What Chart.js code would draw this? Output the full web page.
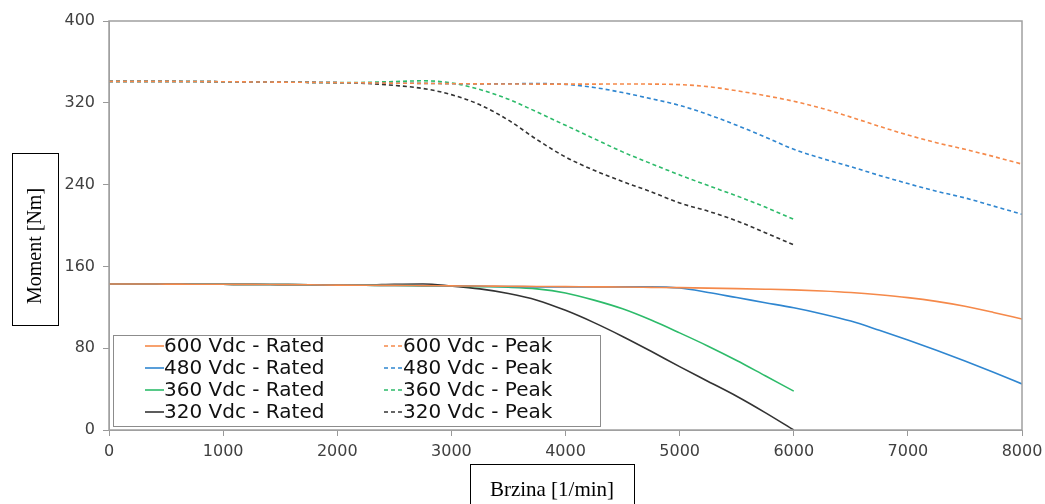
<!DOCTYPE html>
<html>
<head>
<meta charset="utf-8">
<script src="https://cdn.jsdelivr.net/npm/chart.js@4"></script>
<style>
  body { margin: 0; background: #fff; }
  #wrap { width: 1045px; height: 504px; position: relative; }
</style>
</head>
<body>
<div id="wrap"><canvas id="chart"></canvas></div>
<script>
// speed [1/min]
const speed = [0, 250, 500, 750, 1000, 1250, 1500, 1750, 2000, 2250, 2500, 2750, 3000, 3250, 3500, 3750,
  4000, 4250, 4500, 4750, 5000, 5250, 5500, 5750, 6000, 6250, 6500, 6750, 7000, 7250, 7500, 7750, 8000];

// torque [Nm], rated
const rated600 = [142.8, 142.8, 142.7, 142.6, 142.5, 142.4, 142.2, 142.0, 141.7, 141.5, 141.4, 141.2, 141.0, 140.8, 140.6, 140.4,
  140.2, 140.0, 139.8, 139.5, 139.2, 138.8, 138.3, 137.7, 137.0, 136.0, 134.5, 132.3, 129.5, 125.8, 121.0, 115.0, 108.5];
const rated480 = [142.8, 142.8, 142.7, 142.6, 142.5, 142.4, 142.2, 142.0, 141.7, 141.5, 141.4, 141.2, 141.0, 140.6, 140.3, 140.0,
  139.8, 139.8, 140.0, 140.0, 138.8, 134.5, 129.5, 124.5, 119.5, 113.5, 106.5, 97.5, 88.0, 78.0, 67.5, 56.5, 45.0];
const rated360 = [142.8, 142.8, 142.7, 142.6, 142.5, 142.4, 142.2, 142.0, 141.7, 141.5, 141.3, 141.0, 140.8, 140.2, 139.6, 138.0,
  134.0, 127.0, 118.5, 107.5, 95.0, 82.0, 68.0, 53.0, 38.0];
const rated320 = [142.8, 142.8, 142.7, 142.6, 142.5, 142.4, 142.2, 142.0, 141.7, 141.8, 142.5, 142.8, 140.8, 138.0, 133.5, 127.0,
  117.0, 105.0, 91.5, 77.0, 62.0, 47.5, 33.0, 17.0, 0];

// torque [Nm], peak
const peak600 = [341.0, 341.0, 341.0, 340.8, 340.6, 340.4, 340.2, 340.0, 339.7, 339.5, 339.2, 339.0, 338.7, 338.5, 338.4, 338.3,
  338.3, 338.3, 338.4, 338.3, 337.8, 335.8, 331.8, 327.0, 321.5, 314.5, 306.0, 297.0, 288.5, 281.0, 274.5, 267.5, 260.0];
const peak480 = [341.0, 341.0, 341.0, 340.8, 340.6, 340.4, 340.2, 340.0, 339.7, 339.5, 339.2, 339.0, 338.7, 338.5, 338.6, 338.8,
  338.0, 335.0, 330.0, 324.0, 317.5, 308.5, 298.0, 286.5, 274.5, 265.5, 257.5, 249.0, 241.0, 233.5, 227.0, 219.0, 211.0];
const peak360 = [341.0, 341.0, 341.0, 340.8, 340.6, 340.4, 340.2, 340.0, 339.7, 340.0, 340.8, 341.5, 339.5, 333.0, 323.5, 311.0,
  298.0, 285.0, 272.0, 260.5, 249.5, 239.0, 229.0, 218.0, 206.0];
const peak320 = [341.0, 341.0, 341.0, 340.8, 340.6, 340.4, 340.2, 340.0, 339.7, 339.0, 337.0, 334.0, 328.0, 318.0, 303.0, 284.0,
  267.0, 254.0, 243.0, 233.0, 222.0, 214.0, 204.5, 193.0, 181.0];

const xTicks = [0, 1000, 2000, 3000, 4000, 5000, 6000, 7000, 8000];
const yTicks = [0, 80, 160, 240, 320, 400];

const colors = { 600: '#f5894a', 480: '#2f86d0', 360: '#2dbb6a', 320: '#333333' };

const pts = arr => arr.map((v, i) => ({ x: speed[i], y: v }));

function series(label, values, color, dashed) {
  return {
    label: label,
    data: pts(values),
    borderColor: color,
    backgroundColor: color,
    borderWidth: 1.6,
    borderDash: dashed ? [4, 3] : [],
    pointRadius: 0,
    cubicInterpolationMode: 'monotone',
    fill: false
  };
}

const datasets = [
  series('600 Vdc - Rated', rated600, colors[600], false),
  series('480 Vdc - Rated', rated480, colors[480], false),
  series('360 Vdc - Rated', rated360, colors[360], false),
  series('320 Vdc - Rated', rated320, colors[320], false),
  series('600 Vdc - Peak', peak600, colors[600], true),
  series('480 Vdc - Peak', peak480, colors[480], true),
  series('360 Vdc - Peak', peak360, colors[360], true),
  series('320 Vdc - Peak', peak320, colors[320], true)
];

// frame, boxed axis titles and the inset legend
const decor = {
  id: 'decor',
  afterDraw(chart) {
    const ctx = chart.ctx;
    const a = chart.chartArea;
    ctx.save();

    ctx.strokeStyle = '#a0a0a0';
    ctx.lineWidth = 1.5;
    ctx.strokeRect(a.left, a.top, a.right - a.left, a.bottom - a.top);

    // legend box
    const lx = a.left + 4, ly = a.bottom - 95, lw = 487, lh = 91;
    ctx.fillStyle = '#fff';
    ctx.fillRect(lx, ly, lw, lh);
    ctx.strokeStyle = '#8c8c8c';
    ctx.lineWidth = 1;
    ctx.strokeRect(lx + 0.5, ly + 0.5, lw, lh);

    ctx.font = '20px "DejaVu Sans"';
    ctx.textBaseline = 'middle';
    ctx.textAlign = 'left';
    chart.data.datasets.forEach((ds, i) => {
      const col = i < 4 ? 0 : 1;
      const row = i % 4;
      const sx = col === 0 ? lx + 32 : lx + 271;
      const y = ly + 11 + row * 22;
      ctx.strokeStyle = ds.borderColor;
      ctx.lineWidth = 1.6;
      ctx.setLineDash(ds.borderDash);
      ctx.beginPath();
      ctx.moveTo(sx, y);
      ctx.lineTo(sx + 19, y);
      ctx.stroke();
      ctx.setLineDash([]);
      ctx.fillStyle = '#111';
      ctx.fillText(ds.label, sx + 19, y + 1);
    });

    // y title
    ctx.strokeStyle = '#000';
    ctx.lineWidth = 1;
    ctx.strokeRect(12.5, 153.5, 46, 172);
    ctx.save();
    ctx.translate(36, 246);
    ctx.rotate(-Math.PI / 2);
    ctx.font = '20px "Liberation Serif"';
    ctx.textAlign = 'center';
    ctx.fillStyle = '#000';
    ctx.fillText('Moment [Nm]', 0, 0);
    ctx.restore();

    // x title
    ctx.strokeRect(470.5, 464.5, 164, 50);
    ctx.font = '21px "Liberation Serif"';
    ctx.textAlign = 'center';
    ctx.fillStyle = '#000';
    ctx.fillText('Brzina [1/min]', 552, 490);

    ctx.restore();
  }
};

Chart.defaults.font.family = '"DejaVu Sans"';

new Chart(document.getElementById('chart').getContext('2d'), {
  type: 'line',
  data: { datasets: datasets },
  options: {
    responsive: true,
    maintainAspectRatio: false,
    animation: false,
    layout: { padding: { top: 21, right: 23, left: 0, bottom: 0 } },
    plugins: { legend: { display: false }, tooltip: { enabled: false } },
    scales: {
      x: {
        type: 'linear',
        min: 0,
        max: 8000,
        afterBuildTicks: s => { s.ticks = xTicks.map(v => ({ value: v })); },
        afterFit: s => { s.height = 74; s.paddingLeft = 0; s.paddingRight = 0; },
        grid: { drawOnChartArea: false, tickLength: 6, color: '#999' },
        border: { color: '#a0a0a0' },
        ticks: { color: '#404040', font: { size: 16 }, padding: 6, maxRotation: 0, callback: v => String(v) }
      },
      y: {
        min: 0,
        max: 400,
        afterBuildTicks: s => { s.ticks = yTicks.map(v => ({ value: v })); },
        afterFit: s => { s.width = 109; s.paddingTop = 0; s.paddingBottom = 0; },
        grid: { drawOnChartArea: false, tickLength: 6, color: '#999' },
        border: { color: '#a0a0a0' },
        ticks: { color: '#404040', font: { size: 16 }, padding: 8, callback: v => String(v) }
      }
    }
  },
  plugins: [decor]
});
</script>
</body>
</html>
